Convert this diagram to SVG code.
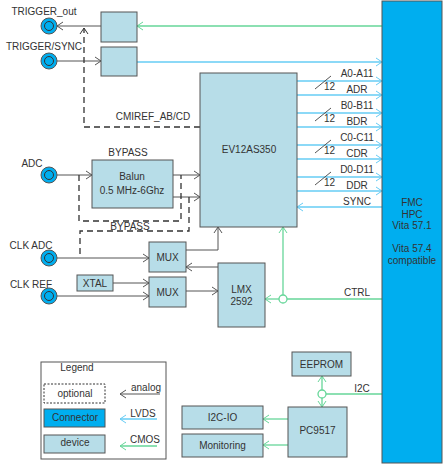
<svg xmlns="http://www.w3.org/2000/svg" width="444" height="465" viewBox="0 0 444 465">
<defs>
<style>
text{font-family:"Liberation Sans",Arial,sans-serif;font-size:10px;fill:#333}
.c{text-anchor:middle}
.dev{fill:#b7dde8;stroke:#555;stroke-width:1}
.con{fill:#00aeef;stroke:#555;stroke-width:1}
.an{stroke:#555;stroke-width:1;fill:none}
.lv{stroke:#66ccf5;stroke-width:1.3;fill:none}
.cm{stroke:#66d699;stroke-width:1.3;fill:none}
.da{stroke:#333;stroke-width:1.3;fill:none;stroke-dasharray:6,4}
</style>
<marker id="ma" markerUnits="userSpaceOnUse" markerWidth="12" markerHeight="12" refX="0" refY="0" viewBox="-8 -6 10 12" orient="auto"><path d="M-6,-4L0,0L-6,4" fill="none" stroke="#555" stroke-width="1"/></marker>
<marker id="ml" markerUnits="userSpaceOnUse" markerWidth="12" markerHeight="12" refX="0" refY="0" viewBox="-8 -6 10 12" orient="auto"><path d="M-6,-4L0,0L-6,4" fill="none" stroke="#66ccf5" stroke-width="1"/></marker>
<marker id="mc" markerUnits="userSpaceOnUse" markerWidth="12" markerHeight="12" refX="0" refY="0" viewBox="-8 -6 10 12" orient="auto"><path d="M-6,-4L0,0L-6,4" fill="none" stroke="#66d699" stroke-width="1"/></marker>
<marker id="md" markerUnits="userSpaceOnUse" markerWidth="12" markerHeight="12" refX="0" refY="0" viewBox="-8 -6 10 12" orient="auto"><path d="M-6,-4L0,0L-6,4" fill="none" stroke="#333" stroke-width="1"/></marker>
</defs>
<rect width="444" height="465" fill="#fff"/>

<g id="connectors">
<!-- trigger -->
<path class="cm" d="M382,26H137" marker-end="url(#mc)"/>
<path class="an" d="M101,26H57" marker-end="url(#ma)"/>
<path class="an" d="M57,61H101" marker-end="url(#ma)"/>
<path class="lv" d="M137,62H382" marker-end="url(#ml)"/>
<!-- data buses -->
<path class="lv" d="M297,81H382" marker-end="url(#ml)"/>
<path class="lv" d="M297,95H382" marker-end="url(#ml)"/>
<path class="lv" d="M297,113H382" marker-end="url(#ml)"/>
<path class="lv" d="M297,127H382" marker-end="url(#ml)"/>
<path class="lv" d="M297,145H382" marker-end="url(#ml)"/>
<path class="lv" d="M297,159H382" marker-end="url(#ml)"/>
<path class="lv" d="M297,177H382" marker-end="url(#ml)"/>
<path class="lv" d="M297,191H382" marker-end="url(#ml)"/>
<path class="lv" d="M382,207H297" marker-end="url(#ml)"/>
<path class="an" d="M315,89L331,76M315,121L331,108M315,153L331,140M315,185L331,172"/>
<!-- CMIREF -->
<path class="da" d="M200,127H84V28" marker-end="url(#md)"/>
<!-- ADC path -->
<path class="an" d="M57,175H92" marker-end="url(#ma)"/>
<path class="an" d="M173,175H200" marker-end="url(#ma)"/>
<path class="an" d="M173,197H200" marker-end="url(#ma)"/>
<path class="da" d="M79,175V221H181V175"/>
<path class="da" d="M189,197V231H80V258"/>
<!-- clocks -->
<path class="an" d="M57,258H149" marker-end="url(#ma)"/>
<path class="an" d="M186,250H218V227" marker-end="url(#ma)"/>
<path class="an" d="M218,267H186" marker-end="url(#ma)"/>
<path class="an" d="M113,283H149" marker-end="url(#ma)"/>
<path class="an" d="M57,296H149" marker-end="url(#ma)"/>
<path class="an" d="M186,291H218" marker-end="url(#ma)"/>
<!-- CTRL -->
<path class="cm" d="M382,299H287"/>
<path class="cm" d="M279,299H265" marker-end="url(#mc)"/>
<path class="cm" d="M283,295V227" marker-end="url(#mc)"/>
<circle cx="283" cy="299" r="4" fill="#fff" stroke="#66d699" stroke-width="1.3"/>
<!-- I2C -->
<path class="cm" d="M382,394H326"/>
<path class="cm" d="M322,390V376" marker-end="url(#mc)"/>
<path class="cm" d="M322,398V407" marker-end="url(#mc)"/>
<circle cx="322" cy="394" r="4" fill="#fff" stroke="#66d699" stroke-width="1.3"/>
<path class="cm" d="M288,419H263" marker-end="url(#mc)"/>
<path class="cm" d="M288,445H263" marker-end="url(#mc)"/>
</g>

<g id="labels">
<text class="c" x="153" y="120">CMIREF_AB/CD</text>
<text class="c" x="128" y="156">BYPASS</text>
<text class="c" x="130" y="230">BYPASS</text>
<text class="c" x="357" y="77">A0-A11</text>
<text class="c" x="357" y="93">ADR</text>
<text class="c" x="357" y="109">B0-B11</text>
<text class="c" x="357" y="125">BDR</text>
<text class="c" x="357" y="141">C0-C11</text>
<text class="c" x="357" y="157">CDR</text>
<text class="c" x="357" y="173">D0-D11</text>
<text class="c" x="357" y="189">DDR</text>
<text class="c" x="357" y="205">SYNC</text>
<text x="324" y="90">12</text>
<text x="324" y="122">12</text>
<text x="324" y="154">12</text>
<text x="324" y="186">12</text>
<text class="c" x="357" y="296">CTRL</text>
<text class="c" x="362" y="392">I2C</text>
</g>

<g id="trigger_out"><circle class="con" cx="49" cy="26" r="8"/><circle cx="49" cy="26" r="4.5" fill="none" stroke="#333"/><text class="c" x="44" y="15">TRIGGER_out</text></g>
<g id="trigger_sync"><circle class="con" cx="49" cy="61" r="8"/><circle cx="49" cy="61" r="4.5" fill="none" stroke="#333"/><text class="c" x="44" y="50">TRIGGER/SYNC</text></g>
<g id="adc"><circle class="con" cx="49" cy="175" r="8"/><circle cx="49" cy="175" r="4.5" fill="none" stroke="#333"/><text class="c" x="32" y="167">ADC</text></g>
<g id="clk_adc"><circle class="con" cx="49" cy="258" r="8"/><circle cx="49" cy="258" r="4.5" fill="none" stroke="#333"/><text class="c" x="31" y="249">CLK ADC</text></g>
<g id="clk_ref"><circle class="con" cx="49" cy="296" r="8"/><circle cx="49" cy="296" r="4.5" fill="none" stroke="#333"/><text class="c" x="31" y="288">CLK REF</text></g>

<g id="trig_buf1"><rect class="dev" x="101" y="12" width="36" height="30"/></g>
<g id="trig_buf2"><rect class="dev" x="101" y="47" width="36" height="29"/></g>
<g id="ev12as350"><rect class="dev" x="200" y="73" width="97" height="154"/><text class="c" x="249" y="153">EV12AS350</text></g>
<g id="balun"><rect class="dev" x="92" y="160" width="81" height="48"/><text class="c" x="132" y="180">Balun</text><text class="c" x="132" y="194">0.5 MHz-6Ghz</text></g>
<g id="mux1"><rect class="dev" x="149" y="242" width="37" height="30"/><text class="c" x="167.5" y="261">MUX</text></g>
<g id="xtal"><rect class="dev" x="77" y="275" width="36" height="16"/><text class="c" x="95" y="287">XTAL</text></g>
<g id="mux2"><rect class="dev" x="149" y="277" width="37" height="30"/><text class="c" x="167.5" y="296">MUX</text></g>
<g id="lmx2592"><rect class="dev" x="218" y="263" width="47" height="64"/><text class="c" x="241.5" y="293">LMX</text><text class="c" x="241.5" y="305">2592</text></g>
<g id="fmc"><rect x="382" y="1" width="60" height="462" fill="#00aeef" stroke="#555"/>
<text class="c" x="412" y="206">FMC</text><text class="c" x="412" y="217.5">HPC</text><text class="c" x="412" y="229">Vita 57.1</text><text class="c" x="412" y="252">Vita 57.4</text><text class="c" x="412" y="264">compatible</text></g>
<g id="eeprom"><rect class="dev" x="292" y="352" width="59" height="24"/><text class="c" x="321.5" y="368">EEPROM</text></g>
<g id="pc9517"><rect class="dev" x="288" y="407" width="59" height="50"/><text class="c" x="317.5" y="434">PC9517</text></g>
<g id="i2c_io"><rect class="dev" x="182" y="406" width="81" height="23"/><text class="c" x="222.5" y="421">I2C-IO</text></g>
<g id="monitoring"><rect class="dev" x="182" y="434" width="81" height="23"/><text class="c" x="222.5" y="449">Monitoring</text></g>

<g id="legend">
<rect x="41" y="362" width="125" height="97" fill="#fff" stroke="#555"/>
<text class="c" x="77" y="371">Legend</text>
<rect x="44" y="384" width="61" height="19" fill="#fff" stroke="#333" stroke-dasharray="2,1.5"/>
<text class="c" x="75" y="397">optional</text>
<rect class="con" x="44" y="409" width="61" height="18"/>
<text class="c" x="75" y="421">Connector</text>
<rect class="dev" x="44" y="435" width="61" height="18"/>
<text class="c" x="75" y="446">device</text>
<path class="an" d="M160,394H120" marker-end="url(#ma)"/>
<text class="c" x="146" y="391">analog</text>
<path class="lv" d="M157,419H120" marker-end="url(#ml)"/>
<text class="c" x="143" y="417">LVDS</text>
<path class="cm" d="M157,446H120" marker-end="url(#mc)"/>
<text class="c" x="145" y="443">CMOS</text>
</g>
</svg>
